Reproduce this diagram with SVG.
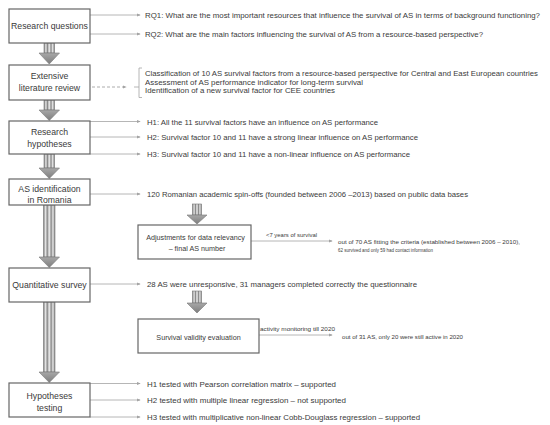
<svg xmlns="http://www.w3.org/2000/svg" width="550" height="425" viewBox="0 0 550 425">
<style>
text{font-family:"Liberation Sans",Arial,sans-serif;fill:#3a3a3a}
.bx{fill:#fff;stroke:#666;stroke-width:1.2}
.bt{font-size:8.7px;text-anchor:middle}
.rt{font-size:8px}
.st{font-size:7.2px;text-anchor:middle}
.sm{font-size:5.8px}
.lb{font-size:5px}
.ln{stroke:#a3a3a3;stroke-width:0.8;fill:none;marker-end:url(#ah)}
.dl{stroke:#a3a3a3;stroke-width:0.9;fill:none;stroke-dasharray:3 2;marker-end:url(#ah)}
.shaft{fill:url(#sg);stroke:#777;stroke-width:0.6}
.head{fill:url(#hg);stroke:#777;stroke-width:0.6}
</style>
<defs>
<marker id="ah" viewBox="0 0 6 6" refX="5" refY="3" markerWidth="4" markerHeight="4" orient="auto" markerUnits="userSpaceOnUse">
<path d="M0,0.5 L6,3 L0,5.5 z" fill="#a3a3a3"/>
</marker>
<linearGradient id="sg" x1="0" y1="0" x2="1" y2="0">
<stop offset="0" stop-color="#7a7a7a"/>
<stop offset="0.18" stop-color="#e6e6e6"/>
<stop offset="0.33" stop-color="#8a8a8a"/>
<stop offset="0.5" stop-color="#f0f0f0"/>
<stop offset="0.67" stop-color="#8a8a8a"/>
<stop offset="0.82" stop-color="#e6e6e6"/>
<stop offset="1" stop-color="#7a7a7a"/>
</linearGradient>
<linearGradient id="hg" x1="0" y1="0" x2="0" y2="1">
<stop offset="0" stop-color="#a8a8a8"/>
<stop offset="1" stop-color="#7d7d7d"/>
</linearGradient>
</defs>

<g id="connectors">
<g id="ba1"><rect class="shaft" x="44" y="43" width="10.5" height="10"/><polygon class="head" points="39,53 59.5,53 49.25,64"/></g>
<g id="ba2"><rect class="shaft" x="44" y="100" width="10.5" height="10"/><polygon class="head" points="39,110 59.5,110 49.25,120.5"/></g>
<g id="ba3"><rect class="shaft" x="44" y="154" width="10.5" height="14"/><polygon class="head" points="39,168 59.5,168 49.25,178.5"/></g>
<g id="ba4"><rect class="shaft" x="43.5" y="205" width="11.5" height="52"/><polygon class="head" points="39,257 59.5,257 49.25,267.5"/></g>
<g id="ba5"><rect class="shaft" x="43.5" y="302" width="11.5" height="70"/><polygon class="head" points="39,372 59.5,372 49.25,382.5"/></g>
<g id="ba6"><rect class="shaft" x="192.5" y="204" width="9" height="11"/><polygon class="head" points="187,215 207,215 197,224"/></g>
<g id="ba7"><rect class="shaft" x="192.5" y="291" width="9" height="12"/><polygon class="head" points="187,303 207,303 197,313"/></g>

<line class="ln" x1="90" y1="15" x2="140" y2="15"/>
<line class="ln" x1="90" y1="34" x2="140" y2="34"/>
<line class="dl" x1="92" y1="87" x2="126" y2="87"/>
<path d="M142,68 L139,68 L139,97.5 L142,97.5 M134,87 L139,87" stroke="#a3a3a3" stroke-width="0.8" fill="none"/>
<line class="ln" x1="90" y1="121.5" x2="140" y2="121.5"/>
<line class="ln" x1="90" y1="137" x2="140" y2="137"/>
<line class="ln" x1="90" y1="154" x2="140" y2="154"/>
<line class="ln" x1="90" y1="194" x2="140" y2="194"/>
<line class="ln" x1="90" y1="284" x2="140" y2="284"/>
<line class="ln" x1="251" y1="241" x2="332" y2="241"/>
<line class="ln" x1="259" y1="335" x2="332" y2="335"/>
<line class="ln" x1="90" y1="383.5" x2="140" y2="383.5"/>
<line class="ln" x1="90" y1="400" x2="140" y2="400"/>
<line class="ln" x1="90" y1="417" x2="140" y2="417"/>
</g>

<g id="n1"><rect class="bx" x="9" y="9" width="81" height="34"/><text class="bt" x="49.5" y="28.5">Research questions</text></g>
<g id="n2"><rect class="bx" x="9" y="65" width="81" height="35"/><text class="bt" x="49.5" y="79">Extensive</text><text class="bt" x="49.5" y="90.5">literature review</text></g>
<g id="n3"><rect class="bx" x="9" y="121" width="81" height="33"/><text class="bt" x="49.5" y="135">Research</text><text class="bt" x="49.5" y="146.5">hypotheses</text></g>
<g id="n4"><rect class="bx" x="9" y="179" width="81" height="26"/><text class="bt" x="49.5" y="191.5">AS identification</text><text class="bt" x="49.5" y="202.5">in Romania</text></g>
<g id="n5"><rect class="bx" x="9" y="268" width="81" height="34"/><text class="bt" x="49.5" y="288">Quantitative survey</text></g>
<g id="n6"><rect class="bx" x="9" y="383" width="81" height="34"/><text class="bt" x="49.5" y="399">Hypotheses</text><text class="bt" x="49.5" y="410.5">testing</text></g>
<g id="n7"><rect class="bx" x="138" y="225" width="113" height="34"/><text class="st" x="195.5" y="239.5">Adjustments for data relevancy</text><text class="st" x="197" y="250.5">– final AS number</text></g>
<g id="n8"><rect class="bx" x="138" y="319" width="121" height="34"/><text class="st" x="198.5" y="339.5">Survival validity evaluation</text></g>

<g id="texts">
<text class="rt" x="145" y="17.8" textLength="395" lengthAdjust="spacingAndGlyphs">RQ1: What are the most important resources that influence the  survival of AS in terms of background functioning?</text>
<text class="rt" x="145" y="36.8" textLength="338" lengthAdjust="spacingAndGlyphs">RQ2: What are the main factors influencing the survival of AS from a resource-based perspective?</text>
<text class="rt" x="145" y="75.5" textLength="393" lengthAdjust="spacingAndGlyphs">Classification of 10 AS survival factors from a resource-based perspective for Central and East European countries</text>
<text class="rt" x="145" y="84.5" textLength="218" lengthAdjust="spacingAndGlyphs">Assessment of AS performance indicator for long-term survival</text>
<text class="rt" x="145" y="93.2" textLength="190" lengthAdjust="spacingAndGlyphs">Identification of a new survival factor for CEE countries</text>
<text class="rt" x="147" y="124.8" textLength="231" lengthAdjust="spacingAndGlyphs">H1: All the 11 survival factors have an influence on AS performance</text>
<text class="rt" x="147" y="139.8" textLength="271" lengthAdjust="spacingAndGlyphs">H2: Survival factor 10 and 11 have a strong linear influence on AS performance</text>
<text class="rt" x="147" y="156.8" textLength="263" lengthAdjust="spacingAndGlyphs">H3: Survival factor 10 and 11 have a non-linear influence on AS performance</text>
<text class="rt" x="147" y="196.8" textLength="321" lengthAdjust="spacingAndGlyphs">120 Romanian academic spin-offs (founded between 2006 –2013) based on public data bases</text>
<text class="rt" x="147" y="286.8" textLength="270" lengthAdjust="spacingAndGlyphs">28 AS were unresponsive, 31 managers completed correctly the questionnaire</text>
<text class="lb" x="266" y="236.5" textLength="51" lengthAdjust="spacingAndGlyphs">&lt;7 years of survival</text>
<text class="sm" x="338" y="243.5" textLength="182" lengthAdjust="spacingAndGlyphs">out of 70 AS fitting the criteria (established between 2006 – 2010),</text>
<text class="sm" x="338" y="251.5" textLength="95" lengthAdjust="spacingAndGlyphs">62 survived and only 59 had contact information</text>
<text class="lb" x="260" y="331" textLength="75" lengthAdjust="spacingAndGlyphs">activity monitoring till 2020</text>
<text class="sm" x="342" y="338.8" textLength="121" lengthAdjust="spacingAndGlyphs">out of 31 AS, only 20 were still active in 2020</text>
<text class="rt" x="147" y="386.8" textLength="189" lengthAdjust="spacingAndGlyphs">H1 tested with Pearson correlation matrix – supported</text>
<text class="rt" x="147" y="402.8" textLength="199" lengthAdjust="spacingAndGlyphs">H2 tested with multiple linear regression – not supported</text>
<text class="rt" x="147" y="419.8" textLength="273" lengthAdjust="spacingAndGlyphs">H3 tested with multiplicative non-linear Cobb-Douglass regression – supported</text>
</g>
</svg>
